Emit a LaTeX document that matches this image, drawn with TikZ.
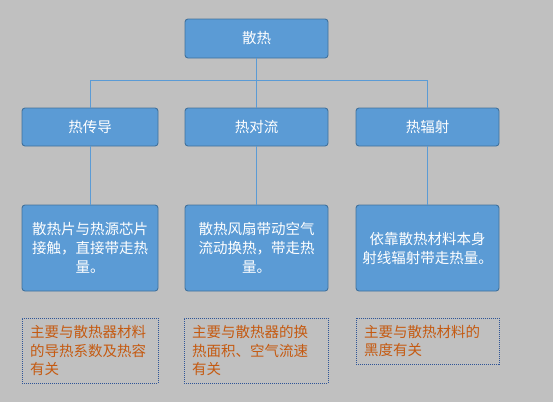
\documentclass[tikz,border=0pt]{standalone}
\usepackage{fontspec}
\newfontfamily\cjk{Noto Sans CJK SC}
\definecolor{heatbg}{RGB}{192,192,192}
\definecolor{heatfill}{RGB}{91,155,213}
\definecolor{heatedge}{RGB}{65,113,156}
\definecolor{heatnote}{RGB}{197,90,17}
\definecolor{heatdots}{RGB}{47,85,151}
\begin{document}
\begin{tikzpicture}[x=1pt,y=-1pt,
    font=\cjk\fontsize{14.5}{19}\selectfont,
    box/.style={draw=heatedge,fill=heatfill,text=white,rounded corners=3pt,
      line width=0.9pt,inner sep=0pt,align=center},
    note/.style={draw=heatdots,densely dotted,line width=1pt,text=heatnote,
      inner xsep=8pt,inner ysep=0pt,align=left,
      font=\cjk\fontsize{14.5}{18.5}\selectfont},
    link/.style={draw=heatfill,line width=0.7pt}]
    \useasboundingbox[fill=heatbg] (0,0) rectangle (553,402);
    \node[box,minimum width=143,minimum height=39] (top) at (256.5,38.5) {散热};
    \node[box,minimum width=136,minimum height=38] (cond) at (90,127) {热传导};
    \node[box,minimum width=143,minimum height=38] (conv) at (256.5,127) {热对流};
    \node[box,minimum width=143,minimum height=38] (rad) at (427.5,127) {热辐射};
    \node[box,minimum width=136,minimum height=86] (condtxt) at (90,248)
      {散热片与热源芯片\\接触，直接带走热\\量。};
    \node[box,minimum width=143,minimum height=86] (convtxt) at (256.5,248)
      {散热风扇带动空气\\流动换热，带走热\\量。};
    \node[box,minimum width=143,minimum height=86] (radtxt) at (427.5,248)
      {依靠散热材料本身\\射线辐射带走热量。};
    \node[note,text width=120,minimum height=65] (condnote) at (90,350.5)
      {主要与散热器材料\\的导热系数及热容\\有关};
    \node[note,text width=128,minimum height=65] (convnote) at (256,350.5)
      {主要与散热器的换\\热面积、空气流速\\有关};
    \node[note,text width=127,minimum height=46] (radnote) at (427.5,341)
      {主要与散热材料的\\黑度有关};
    \draw[link] (top.south) -- ++(0,22) coordinate (bus);
    \draw[link] (bus) -| (cond.north);
    \draw[link] (bus) -| (rad.north);
    \draw[link] (bus) -- (conv.north);
    \foreach \a/\b in {cond/condtxt,conv/convtxt,rad/radtxt}
      \draw[link] (\a.south) -- (\b.north);
  \end{tikzpicture}
\end{document}
